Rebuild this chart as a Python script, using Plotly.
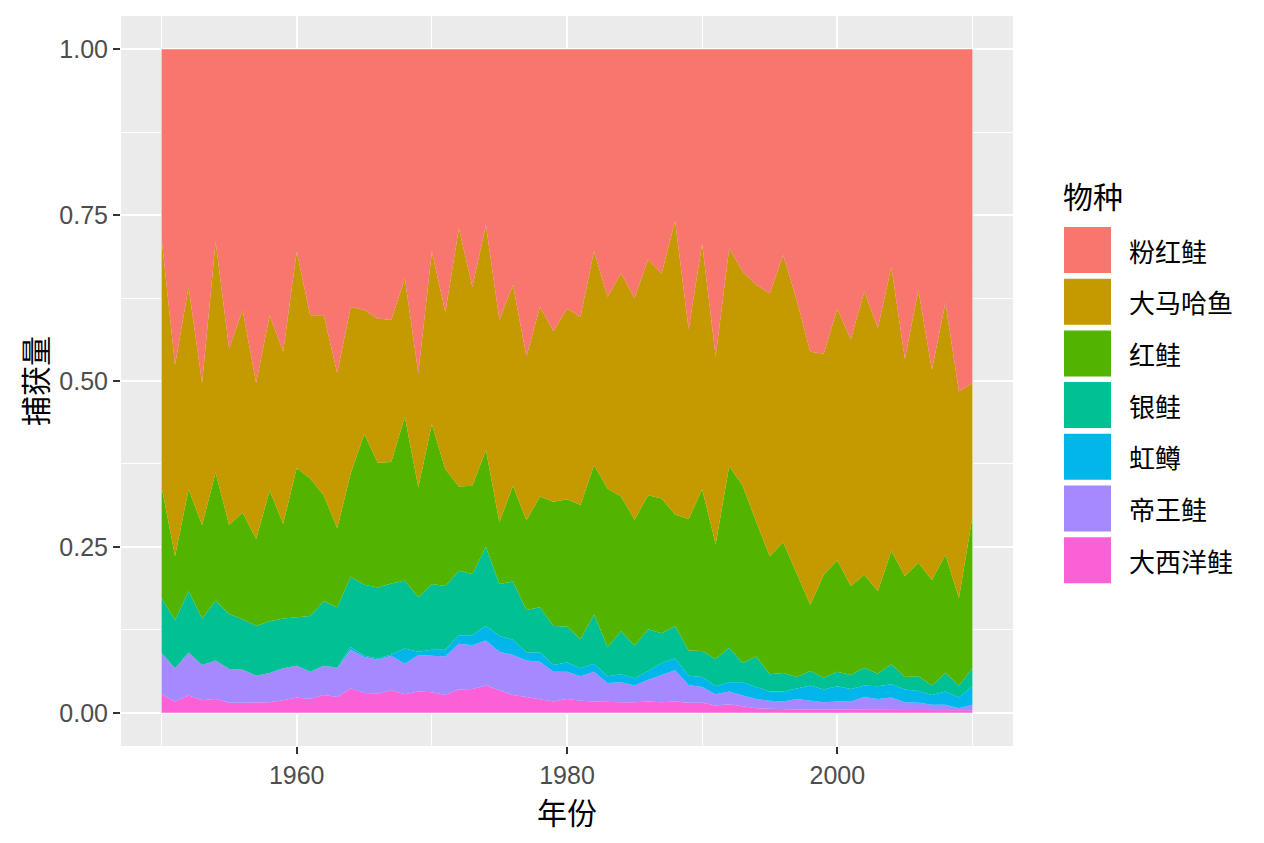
import numpy as np
import plotly.graph_objs as go

years = list(range(1950, 2011))

# cumulative share (from the bottom) at the top edge of each band
top_atlantic = [0.028, 0.017, 0.026, 0.019, 0.021, 0.015, 0.015, 0.016, 0.016, 0.019,
                0.023, 0.021, 0.027, 0.024, 0.037, 0.030, 0.029, 0.034, 0.028, 0.032,
                0.031, 0.027, 0.035, 0.036, 0.041, 0.034, 0.027, 0.024, 0.020, 0.017,
                0.021, 0.018, 0.017, 0.016, 0.016, 0.016, 0.017, 0.016, 0.017, 0.015,
                0.015, 0.011, 0.013, 0.010, 0.007, 0.006, 0.005, 0.005, 0.005, 0.005,
                0.005, 0.005, 0.005, 0.005, 0.005, 0.005, 0.005, 0.004, 0.004, 0.004, 0.004]
top_chinook = [0.090, 0.067, 0.091, 0.072, 0.079, 0.066, 0.065, 0.056, 0.060, 0.067,
               0.071, 0.062, 0.071, 0.067, 0.095, 0.084, 0.080, 0.086, 0.074, 0.087,
               0.086, 0.085, 0.104, 0.102, 0.109, 0.092, 0.087, 0.079, 0.077, 0.062,
               0.062, 0.055, 0.062, 0.045, 0.046, 0.041, 0.050, 0.057, 0.064, 0.042,
               0.039, 0.028, 0.032, 0.026, 0.021, 0.018, 0.017, 0.021, 0.018, 0.016,
               0.017, 0.017, 0.024, 0.021, 0.023, 0.016, 0.015, 0.012, 0.012, 0.007, 0.012]
top_rainbow = [0.090, 0.067, 0.091, 0.072, 0.079, 0.066, 0.065, 0.056, 0.060, 0.067,
               0.071, 0.062, 0.071, 0.068, 0.099, 0.086, 0.082, 0.088, 0.097, 0.092,
               0.095, 0.095, 0.117, 0.117, 0.131, 0.116, 0.110, 0.091, 0.091, 0.072,
               0.076, 0.067, 0.074, 0.055, 0.058, 0.052, 0.063, 0.075, 0.082, 0.056,
               0.054, 0.040, 0.046, 0.046, 0.039, 0.032, 0.032, 0.037, 0.041, 0.035,
               0.040, 0.036, 0.041, 0.040, 0.043, 0.035, 0.033, 0.027, 0.032, 0.023, 0.040]
top_coho = [0.173, 0.140, 0.183, 0.142, 0.169, 0.149, 0.141, 0.131, 0.138, 0.142,
            0.144, 0.146, 0.168, 0.159, 0.205, 0.193, 0.189, 0.195, 0.199, 0.174,
            0.194, 0.191, 0.214, 0.209, 0.250, 0.194, 0.198, 0.155, 0.159, 0.131,
            0.130, 0.111, 0.148, 0.099, 0.123, 0.101, 0.126, 0.120, 0.131, 0.094,
            0.093, 0.081, 0.098, 0.075, 0.085, 0.058, 0.060, 0.054, 0.063, 0.053,
            0.062, 0.057, 0.068, 0.059, 0.073, 0.054, 0.055, 0.041, 0.060, 0.041, 0.067]
top_sockeye = [0.341, 0.236, 0.337, 0.283, 0.362, 0.283, 0.302, 0.262, 0.335, 0.285,
               0.369, 0.353, 0.328, 0.278, 0.361, 0.420, 0.377, 0.378, 0.446, 0.340,
               0.435, 0.367, 0.341, 0.342, 0.396, 0.287, 0.342, 0.290, 0.326, 0.318,
               0.322, 0.313, 0.373, 0.338, 0.326, 0.291, 0.328, 0.323, 0.299, 0.292,
               0.337, 0.254, 0.372, 0.342, 0.288, 0.236, 0.257, 0.210, 0.163, 0.208,
               0.230, 0.191, 0.208, 0.183, 0.244, 0.206, 0.226, 0.200, 0.238, 0.173, 0.296]
top_chum = [0.715, 0.524, 0.642, 0.497, 0.710, 0.549, 0.607, 0.497, 0.599, 0.544,
            0.695, 0.599, 0.599, 0.512, 0.612, 0.607, 0.594, 0.592, 0.655, 0.512,
            0.695, 0.604, 0.730, 0.642, 0.735, 0.592, 0.645, 0.537, 0.612, 0.575,
            0.609, 0.597, 0.696, 0.627, 0.662, 0.625, 0.683, 0.662, 0.741, 0.578,
            0.707, 0.537, 0.700, 0.665, 0.645, 0.632, 0.690, 0.622, 0.544, 0.541,
            0.609, 0.563, 0.635, 0.580, 0.672, 0.533, 0.637, 0.517, 0.618, 0.484, 0.497]

species = ['粉红鲑', '大马哈鱼', '红鲑', '银鲑', '虹鳟', '帝王鲑', '大西洋鲑']
colors = ['#F8766D', '#C49A00', '#53B400', '#00C094', '#00B6EB', '#A58AFF', '#FB61D7']

# band thickness = difference of consecutive edges (bottom -> top)
edges = [np.zeros(len(years)), top_atlantic, top_chinook, top_rainbow, top_coho,
         top_sockeye, top_chum, np.ones(len(years))]
edges = [np.asarray(e, dtype=float) for e in edges]
shares = [edges[i + 1] - edges[i] for i in range(7)]  # atlantic ... pink

# panel geometry in page pixels; the page body adds an 8px offset
W, H = 1264, 843
OFF = 8
L, R, T, B = 121, 1013, 16, 746


def px(x):
    return (x - L) / (R - L)


def py(y):
    return (B - y) / (B - T)


fig = go.Figure()
for i in range(7):
    name = species[6 - i]
    col = colors[6 - i]
    fig.add_trace(go.Scatter(x=years, y=shares[i], name=name, mode='lines',
                             stackgroup='one', line=dict(width=0, color=col),
                             fillcolor=col, showlegend=False,
                             hovertemplate=name + ' %{x}: %{y:.3f}<extra></extra>'))

base_font = 'Liberation Sans, Arial, Noto Sans CJK SC, sans-serif'
cjk_font = 'Noto Sans CJK SC, sans-serif'

# hand-made legend so the keys come out as big ggplot squares
shapes = []
annotations = [dict(x=px(1061), y=py(195), xref='paper', yref='paper', text='物种',
                    showarrow=False, xanchor='left', yanchor='middle',
                    font=dict(family=cjk_font, size=30, color='black'))]
for i, (name, col) in enumerate(zip(species, colors)):
    top = 227 + 51.7 * i
    shapes.append(dict(type='rect', xref='paper', yref='paper',
                       x0=px(1064), x1=px(1111), y0=py(top + 46), y1=py(top),
                       fillcolor=col, line=dict(width=0)))
    annotations.append(dict(x=px(1127), y=py(top + 23), xref='paper', yref='paper',
                            text=name, showarrow=False, xanchor='left', yanchor='middle',
                            font=dict(family=cjk_font, size=26, color='black')))

fig.update_layout(
    width=W, height=H,
    margin=dict(l=L - OFF, r=W - R + OFF, t=T - OFF, b=H - B + OFF, pad=0),
    paper_bgcolor='white',
    plot_bgcolor='#EBEBEB',
    font=dict(family=base_font, size=25, color='#4D4D4D'),
    shapes=shapes,
    annotations=annotations,
    hovermode='closest',
    xaxis=dict(range=[1947, 2013], tickvals=[1960, 1980, 2000],
               ticks='outside', ticklen=7, tickwidth=2, tickcolor='#333333',
               showgrid=True, gridcolor='white', gridwidth=2.2,
               zeroline=False, showline=False,
               minor=dict(tickvals=[1950, 1970, 1990, 2010], showgrid=True,
                          gridcolor='white', gridwidth=1.1, ticks=''),
               tickfont=dict(size=25, color='#4D4D4D'),
               title=dict(text='年份', standoff=3,
                          font=dict(family=cjk_font, size=30, color='black'))),
    yaxis=dict(range=[-0.05, 1.05], tickvals=[0, 0.25, 0.5, 0.75, 1.0],
               ticktext=['0.00', '0.25', '0.50', '0.75', '1.00'],
               ticks='outside', ticklen=7, tickwidth=2, tickcolor='#333333',
               showgrid=True, gridcolor='white', gridwidth=2.2,
               zeroline=False, showline=False,
               minor=dict(tickvals=[0.125, 0.375, 0.625, 0.875], showgrid=True,
                          gridcolor='white', gridwidth=1.1, ticks=''),
               tickfont=dict(size=25, color='#4D4D4D'),
               title=dict(text='捕获量', standoff=2,
                          font=dict(family=cjk_font, size=30, color='black'))),
)

fig.write_html("out.html")
